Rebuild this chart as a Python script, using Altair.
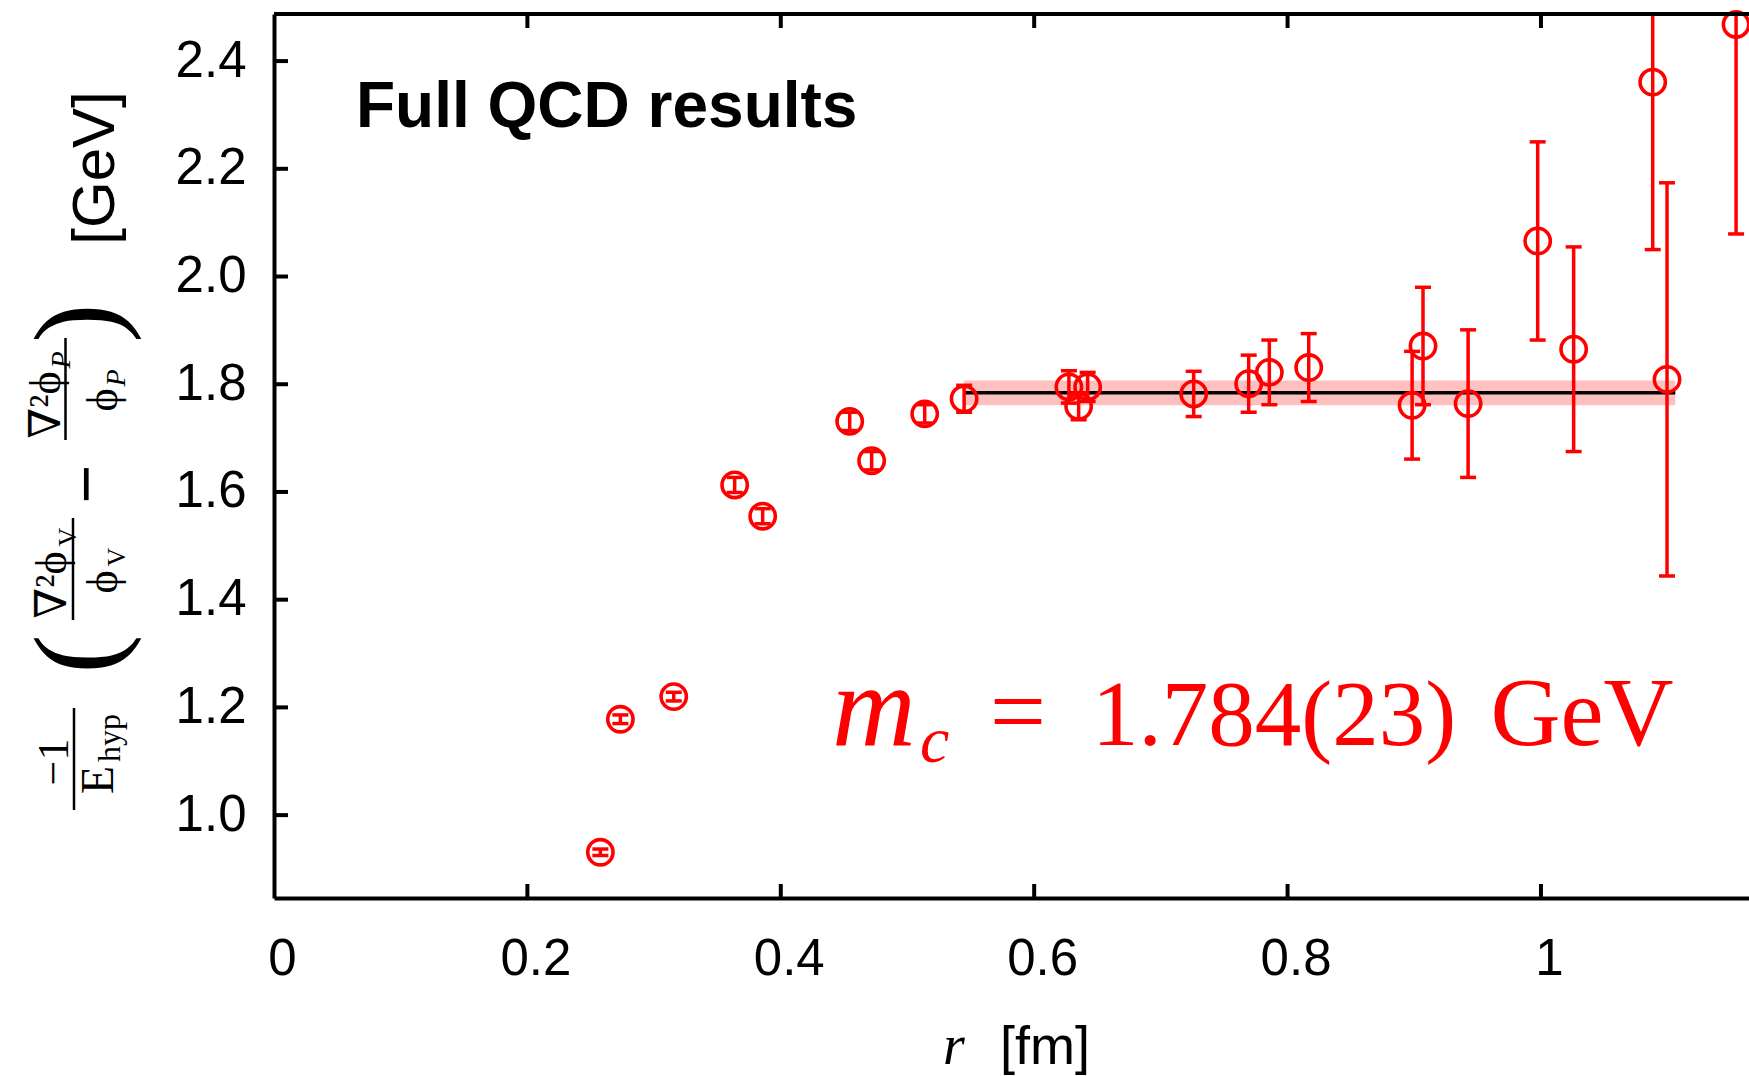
import altair as alt
import pandas as pd

# ---------------- data ----------------
r_fm = [0.2576, 0.2734, 0.3155, 0.3636, 0.3857, 0.4544, 0.4717, 0.5136, 0.5447,
        0.6274, 0.6351, 0.6422, 0.7259, 0.7693, 0.7856, 0.8167, 0.8983, 0.9069,
        0.9425, 0.9974, 1.0258, 1.0882, 1.0995, 1.1540]
mass = [0.931, 1.178, 1.220, 1.613, 1.555, 1.731, 1.658, 1.745, 1.773,
        1.795, 1.759, 1.795, 1.782, 1.801, 1.822, 1.831, 1.761, 1.871,
        1.764, 2.066, 1.865, 2.361, 1.809, 2.468]
err = [0.006, 0.008, 0.008, 0.014, 0.014, 0.017, 0.017, 0.017, 0.025,
       0.030, 0.025, 0.027, 0.042, 0.053, 0.060, 0.063, 0.100, 0.109,
       0.137, 0.184, 0.190, 0.311, 0.365, 0.389]

x_ticks = [0.0, 0.2, 0.4, 0.6, 0.8, 1.0]
y_ticks = [1.0, 1.2, 1.4, 1.6, 1.8, 2.0, 2.2, 2.4]

fit_range = [0.5444, 1.106]
fit_value = 1.784
fit_error = 0.023

# ---------------- tables ----------------
df = pd.DataFrame({
    "r": r_fm,
    "m": mass,
    "lo": [m - e for m, e in zip(mass, err)],
    "hi": [m + e for m, e in zip(mass, err)],
})
fit_df = pd.DataFrame({
    "x1": [fit_range[0]], "x2": [fit_range[1]],
    "y": [fit_value], "ylo": [fit_value - fit_error], "yhi": [fit_value + fit_error],
})
xt_df = pd.DataFrame({"v": x_ticks[1:]})
yt_df = pd.DataFrame({"v": y_ticks})
one = pd.DataFrame({"k": [0]})

W, H = 1475, 884
SANS = "Liberation Sans, Arial, Helvetica, sans-serif"
SERIF = "Liberation Serif, DejaVu Serif, serif"
RED = "#ff0000"

xs = alt.Scale(domain=[0, 1.1642], nice=False, zero=False)
ys = alt.Scale(domain=[0.8461, 2.4874], nice=False, zero=False)

x_axis = alt.Axis(values=x_ticks, format="~g", title=None, ticks=False, tickSize=0,
                  grid=False, domainWidth=4, domainColor="black",
                  labelFontSize=51, labelFont=SANS, labelColor="black",
                  labelPadding=36, labelOffset=8, labelFlush=False, labelOverlap=False)
y_axis = alt.Axis(values=y_ticks, format=".1f", title=None, ticks=False, tickSize=0,
                  grid=False, domainWidth=4, domainColor="black",
                  labelFontSize=51, labelFont=SANS, labelColor="black",
                  labelPadding=28, labelFlush=False, labelOverlap=False)


def X(field):
    return alt.X(field, scale=xs, axis=x_axis)


def Y(field):
    return alt.Y(field, scale=ys, axis=y_axis)


# fit band + line
band = alt.Chart(fit_df).mark_rect(color="#ffc0c0").encode(
    x=X("x1:Q"), x2="x2:Q", y=Y("ylo:Q"), y2="yhi:Q")
fit_line = alt.Chart(fit_df).mark_rule(color="black", strokeWidth=3.5).encode(
    x=X("x1:Q"), x2="x2:Q", y=Y("y:Q"))

# error bars
bars = alt.Chart(df).mark_rule(color=RED, strokeWidth=3.5, clip=True).encode(
    x=X("r:Q"), y=Y("lo:Q"), y2="hi:Q")
cap_lo = alt.Chart(df).mark_tick(color=RED, orient="horizontal", size=16,
                                 thickness=3.5, clip=True, opacity=1).encode(
    x=X("r:Q"), y=Y("lo:Q"))
cap_hi = alt.Chart(df).mark_tick(color=RED, orient="horizontal", size=16,
                                 thickness=3.5, clip=True, opacity=1).encode(
    x=X("r:Q"), y=Y("hi:Q"))

points = alt.Chart(df).mark_point(shape="circle", filled=False, size=640,
                                  strokeWidth=3.6, color=RED, opacity=1).encode(
    x=X("r:Q"), y=Y("m:Q"))

# inward tick marks (left, bottom, top)
left_ticks = alt.Chart(yt_df).mark_rule(color="black", strokeWidth=4).encode(
    y=Y("v:Q"), x=alt.value(0), x2=alt.value(14))
bottom_ticks = alt.Chart(xt_df).mark_rule(color="black", strokeWidth=4).encode(
    x=X("v:Q"), y=alt.value(H), y2=alt.value(H - 14))
top_ticks = alt.Chart(xt_df).mark_rule(color="black", strokeWidth=4).encode(
    x=X("v:Q"), y=alt.value(0), y2=alt.value(14))
top_line = alt.Chart(one).mark_rule(color="black", strokeWidth=4).encode(
    x=alt.value(0), x2=alt.value(W), y=alt.value(0))


def htext(txt, x, y, size, font=SANS, style="normal", weight="normal",
          color="black", align="left"):
    return alt.Chart(one).mark_text(
        text=txt, align=align, baseline="alphabetic", fontSize=size, font=font,
        fontStyle=style, fontWeight=weight, color=color
    ).encode(x=alt.value(x), y=alt.value(y))


def rtext(txt, x, y, size, font=SERIF, style="normal", weight="normal"):
    return alt.Chart(one).mark_text(
        text=txt, angle=270, align="center", baseline="alphabetic", fontSize=size,
        font=font, fontStyle=style, fontWeight=weight, color="black"
    ).encode(x=alt.value(x), y=alt.value(y))


def vbar(x, y1, y2):
    return alt.Chart(one).mark_rule(color="black", strokeWidth=2.5).encode(
        x=alt.value(x), y=alt.value(y1), y2=alt.value(y2))


texts = [
    htext("Full QCD results", 82, 113, 64, weight="bold"),
    # red annotation
    htext("m", 558, 731, 116, font=SERIF, style="italic", color=RED),
    htext("c", 646, 748, 66, font=SERIF, style="italic", color=RED),
    htext("=", 744, 731, 100, font=SERIF, color=RED, align="center"),
    htext("1.784(23)", 1000, 731, 93, font=SERIF, color=RED, align="center"),
    htext("GeV", 1308, 731, 97, font=SERIF, color=RED, align="center"),
    # x title
    htext("r", 669, 1050, 56, font=SERIF, style="italic"),
    htext("[fm]", 726, 1050, 54),
    # y title (rotated pieces)
    rtext("[GeV]", -160, 154, 60, font=SANS),
    rtext(")", -158, 309, 118),
    rtext("\u2207\u00b2\u03d5", -214, 391, 44),
    rtext("P", -204, 346, 28, style="italic"),
    vbar(-208.5, 324, 426),
    rtext("\u03d5", -157, 386, 44),
    rtext("P", -149, 364, 28, style="italic"),
    rtext("\u2212", -166, 470, 66, font=SANS),
    rtext("\u2207\u00b2\u03d5", -208, 571, 44),
    rtext("V", -198, 523, 26),
    vbar(-201, 504, 606),
    rtext("\u03d5", -157, 568, 44),
    rtext("V", -149, 543, 26),
    rtext("(", -158, 640, 118),
    rtext("\u22121", -206, 748, 44),
    vbar(-200, 694, 796),
    rtext("E", -161, 766, 46),
    rtext("hyp", -154, 724, 32),
]

chart = alt.layer(
    band, fit_line, bars, cap_lo, cap_hi, points,
    left_ticks, bottom_ticks, top_ticks, top_line, *texts
).properties(
    width=W, height=H,
    autosize=alt.AutoSizeParams(type="none"),
    padding={"left": 274, "top": 14, "right": 0, "bottom": 178},
).configure_view(stroke=None)

chart.save("out.html", embed_options={"renderer": "svg", "actions": False})
